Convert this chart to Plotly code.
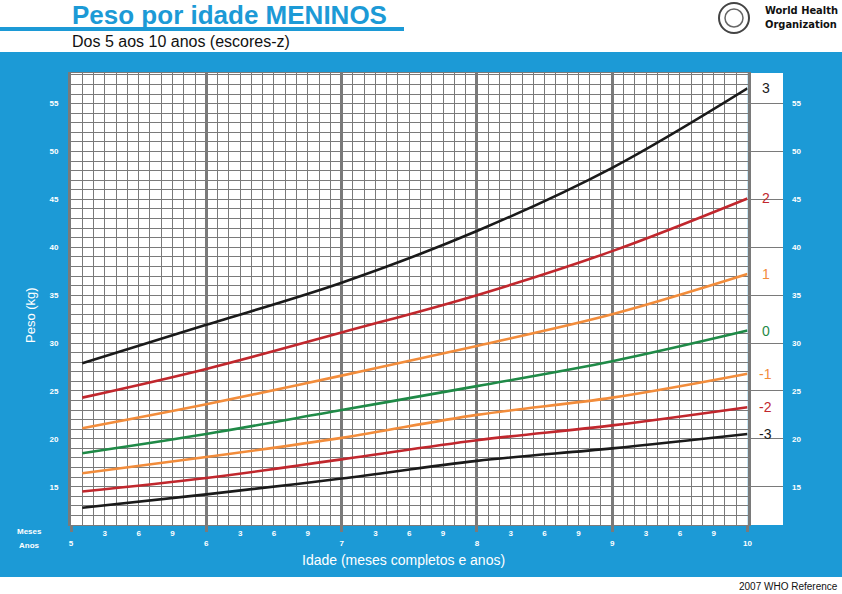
import plotly.graph_objects as go

# WHO 2007 weight-for-age, boys 5-10 years
months = [61, 72, 84, 96, 108, 120]
sd3 = [27.9, 31.9, 36.3, 41.7, 48.3, 56.6]
sd2 = [24.3, 27.3, 31.1, 35.0, 39.6, 45.1]
sd1 = [21.1, 23.6, 26.6, 29.7, 33.0, 37.2]
sd0 = [18.5, 20.5, 23.0, 25.5, 28.1, 31.3]
sd1neg = [16.4, 18.1, 20.1, 22.5, 24.3, 26.8]
sd2neg = [14.5, 15.9, 17.85, 19.85, 21.4, 23.3]
sd3neg = [12.8, 14.2, 15.85, 17.7, 19.0, 20.5]

z_labels = ["3", "2", "1", "0", "-1", "-2", "-3"]
series = [sd3, sd2, sd1, sd0, sd1neg, sd2neg, sd3neg]

# one grid line per month, labels every 3 months, years on a second row
month_ticks = list(range(60, 121))
month_text = []
for m in month_ticks:
    if m % 12 == 0:
        month_text.append("<br>%d" % (m // 12))
    elif m % 3 == 0:
        month_text.append("%d" % (m % 12))
    else:
        month_text.append("")
year_ticks = [60, 72, 84, 96, 108, 120]

# one grid line per kg, labels every 5 kg
kg_ticks = list(range(11, 59))
kg_text = [str(k) if k % 5 == 0 else "" for k in kg_ticks]
kg_major = [15, 20, 25, 30, 35, 40, 45, 50, 55]

BLUE = "#1c9ad6"
GRID = "#7a7a7a"
BLACK = "#1a1a1a"
RED = "#c1272d"
ORANGE = "#f28c3b"
GREEN = "#1f8a47"
colors = [BLACK, RED, ORANGE, GREEN, ORANGE, RED, BLACK]

W, H = 842, 594
L, R, T, B = 71, 59, 73, 69
PW, PH = W - L - R, H - T - B


def px(x):
    return (x - L) / PW


def py(y):
    return (H - B - y) / PH


split = (747.5 - L) / PW

fig = go.Figure()
for name, vals, c in zip(z_labels, series, colors):
    fig.add_trace(go.Scatter(x=months, y=vals, mode="lines", name=name,
                             line=dict(color=c, width=2.6, shape="spline"),
                             hoverinfo="x+y", showlegend=False))

# empty trace to anchor the right strip
fig.add_trace(go.Scatter(x=[None], y=[None], xaxis="x2", yaxis="y2",
                         showlegend=False))
# overlay axis for the year lines and ticks
fig.add_trace(go.Scatter(x=[None], y=[None], xaxis="x3", yaxis="y",
                         showlegend=False))

for name, vals, c in zip(z_labels, series, colors):
    fig.add_annotation(x=121.6, y=vals[-1], xref="x2", yref="y2", text=name,
                       showarrow=False, font=dict(size=14, color=c))

tickfont = dict(family="Liberation Sans, Arial", size=8, color="white",
                weight="bold")

fig.update_layout(
    width=W, height=H,
    margin=dict(l=L, r=R, t=T, b=B),
    paper_bgcolor=BLUE,
    plot_bgcolor="white",
    font=dict(family="Liberation Sans, Arial"),
    xaxis=dict(domain=[0, split], range=[60, 120], tickmode="array",
               tickvals=month_ticks, ticktext=month_text, tickfont=tickfont,
               ticks="", showgrid=True, gridcolor=GRID, gridwidth=1,
               zeroline=False, showline=True, linecolor=GRID, linewidth=1,
               mirror=True, fixedrange=True),
    xaxis3=dict(overlaying="x", range=[60, 120], tickmode="array",
                tickvals=year_ticks, showticklabels=False, ticks="outside",
                ticklen=6, tickwidth=3, tickcolor=GRID, showgrid=True,
                gridcolor=GRID, gridwidth=3, zeroline=False, fixedrange=True),
    yaxis=dict(range=[11, 58.2], tickmode="array", tickvals=kg_ticks,
               ticktext=kg_text, tickfont=tickfont, ticks="",
               ticklabelstandoff=8, showgrid=True, gridcolor=GRID,
               gridwidth=1, zeroline=False, showline=True, linecolor=GRID,
               linewidth=3, mirror=True, fixedrange=True),
    xaxis2=dict(domain=[split, 1], range=[120, 123.15], showticklabels=False,
                showgrid=False, zeroline=False, ticks="", fixedrange=True),
    yaxis2=dict(anchor="x2", matches="y", side="right", tickmode="array",
                tickvals=kg_major, tickfont=tickfont, ticks="",
                ticklabelstandoff=8, showgrid=True, gridcolor=GRID,
                gridwidth=1, zeroline=False, fixedrange=True),
)

# white header and footer around the blue band
fig.add_shape(type="rect", xref="paper", yref="paper", layer="below",
              x0=px(0), x1=px(W), y0=py(52), y1=py(0),
              fillcolor="white", line=dict(width=0))
fig.add_shape(type="rect", xref="paper", yref="paper", layer="below",
              x0=px(0), x1=px(W), y0=py(H), y1=py(577),
              fillcolor="white", line=dict(width=0))
# line under the title
fig.add_shape(type="line", xref="paper", yref="paper",
              x0=px(0), x1=px(404), y0=py(29), y1=py(29),
              line=dict(color=BLUE, width=4))
# emblem placeholder
fig.add_shape(type="circle", xref="paper", yref="paper",
              x0=px(719), x1=px(749), y0=py(33), y1=py(3),
              line=dict(color="#444444", width=2))
fig.add_shape(type="circle", xref="paper", yref="paper",
              x0=px(725), x1=px(743), y0=py(27), y1=py(9),
              line=dict(color="#666666", width=1.5))

ann = dict(xref="paper", yref="paper", showarrow=False,
           xanchor="center", yanchor="middle")
fig.add_annotation(x=px(70), y=py(15), text="<b>Peso por idade MENINOS</b>",
                   font=dict(size=26, color=BLUE, family="Liberation Sans, Arial"),
                   **{**ann, "xanchor": "left"})
fig.add_annotation(x=px(70), y=py(42), text="Dos 5 aos 10 anos (escores-z)",
                   font=dict(size=16, color="#111111"),
                   **{**ann, "xanchor": "left"})
fig.add_annotation(x=px(763), y=py(17), align="left",
                   text="<b>World Health<br>Organization</b>",
                   font=dict(size=11, color="#111111",
                             family="DejaVu Sans Condensed, Liberation Sans Narrow"),
                   **{**ann, "xanchor": "left"})
fig.add_annotation(x=px(840), y=py(586), text="2007 WHO Reference",
                   font=dict(size=10, color="#111111"),
                   **{**ann, "xanchor": "right"})
fig.add_annotation(x=px(30), y=py(315), textangle=-90, text="Peso (kg)",
                   font=dict(size=13, color="white"), **ann)
fig.add_annotation(x=px(403), y=py(560), text="Idade (meses completos e anos)",
                   font=dict(size=14, color="white"), **ann)
fig.add_annotation(x=px(44), y=py(531), text="<b>Meses</b>",
                   font=dict(size=8, color="white"),
                   **{**ann, "xanchor": "right"})
fig.add_annotation(x=px(42), y=py(545), text="<b>Anos</b>",
                   font=dict(size=8, color="white"),
                   **{**ann, "xanchor": "right"})

fig.write_html("out.html", config={"displayModeBar": False},
               post_script="document.body.style.margin='0';")
